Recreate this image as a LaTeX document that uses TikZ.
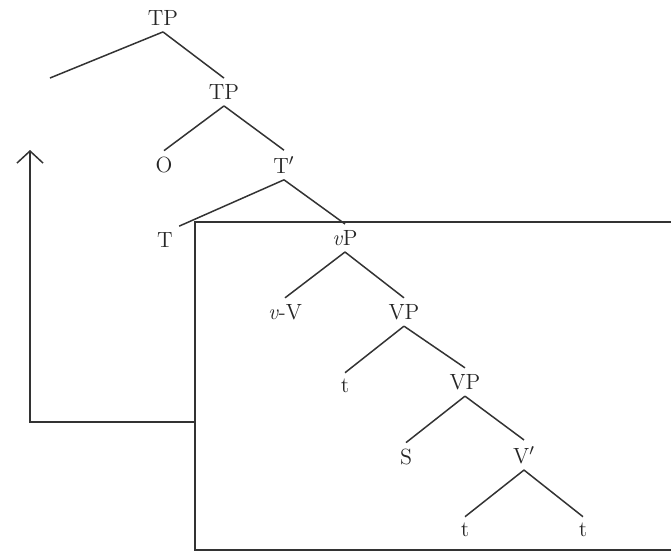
\documentclass[tikz,border=0pt]{standalone}
\usetikzlibrary{arrows.meta}

\tikzset{
  lbl/.style={inner sep=3pt, text=black!85, font=\fontsize{11}{13}\selectfont},
  branch/.style={draw=black!80, line width=0.75pt},
  movearrow/.style={draw=black!80, line width=0.75pt, -{Straight Barb[length=6pt,width=13pt,line width=0.75pt]}}
}

\begin{document}
\begin{tikzpicture}[x=0.5pt,y=-0.5pt]
\useasboundingbox (0,0) rectangle (671,552);

% labels
\node[lbl] (tpa) at (163,18) {TP};
\coordinate (gap) at (50,78);
\node[lbl] (tpb) at (224,92) {TP};
\node[lbl] (obj) at (164,165) {O};
\node[lbl] (tbar) at (284,165) {T$'$};
\node[lbl] (tee) at (165,240) {T};
\node[lbl] (vp) at (345,238) {\textit{v}P};
\node[lbl] (vv) at (285,312) {\textit{v}-V};
\node[lbl] (vpa) at (404,312) {VP};
\node[lbl] (ta) at (345,386) {t};
\node[lbl] (vpb) at (465,382) {VP};
\node[lbl] (subj) at (406,457) {S};
\node[lbl] (vbar) at (524,455) {V$'$};
\node[lbl] (tb) at (465,530) {t};
\node[lbl] (tc) at (583,530) {t};

% branches
\draw[branch] (tpa.south) -- (gap);
\draw[branch] (tpa.south) -- (tpb.north);
\draw[branch] (tpb.south) -- (obj.north);
\draw[branch] (tpb.south) -- (tbar.north);
\draw[branch] (tbar.south) -- (tee.north east);
\draw[branch] (tbar.south) -- (vp.north);
\draw[branch] (vp.south) -- (vv.north);
\draw[branch] (vp.south) -- (vpa.north);
\draw[branch] (vpa.south) -- (ta.north);
\draw[branch] (vpa.south) -- (vpb.north);
\draw[branch] (vpb.south) -- (subj.north);
\draw[branch] (vpb.south) -- (vbar.north);
\draw[branch] (vbar.south) -- (tb.north);
\draw[branch] (vbar.south) -- (tc.north);

% box and movement
\coordinate (boxtr) at (671,222);
\coordinate (boxtl) at (195,222);
\coordinate (boxbl) at (195,550);
\coordinate (boxbr) at (671,550);
\draw[branch] (boxtr) -- (boxtl) -- (boxbl) -- (boxbr);
\coordinate (exit) at (195,422);
\coordinate (corner) at (30,422);
\coordinate (target) at (30,150);
\draw[movearrow] (exit) -- (corner) -- (target);

\end{tikzpicture}
\end{document}
